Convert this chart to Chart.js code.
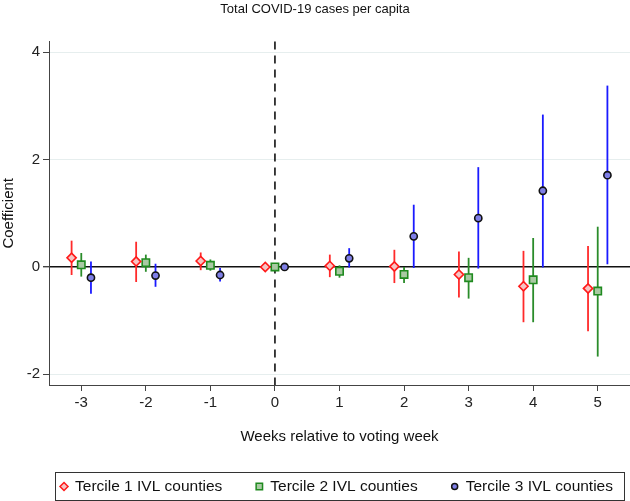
<!DOCTYPE html>
<html>
<head>
<meta charset="utf-8">
<title>Total COVID-19 cases per capita</title>
<script src="https://cdn.jsdelivr.net/npm/chart.js@4.4.1/dist/chart.umd.min.js"></script>
<style>
  html, body { margin: 0; padding: 0; background: #fff; }
  canvas { display: block; }
</style>
</head>
<body>
<canvas id="chart" width="630" height="501"></canvas>
<script>
// ---- data ----
const weeks = [-3, -2, -1, 0, 1, 2, 3, 4, 5];
const xTicks = [-3, -2, -1, 0, 1, 2, 3, 4, 5];
const yTicks = [-2, 0, 2, 4];

const seriesNames = ['Tercile 1 IVL counties', 'Tercile 2 IVL counties', 'Tercile 3 IVL counties'];

const t1Coef = [0.17, 0.10, 0.11, 0, 0.02, 0.01, -0.14, -0.36, -0.40];
const t1Lo   = [-0.15, -0.28, -0.06, null, -0.19, -0.30, -0.57, -1.03, -1.20];
const t1Hi   = [0.49, 0.47, 0.27, null, 0.23, 0.32, 0.29, 0.30, 0.39];

const t2Coef = [0.04, 0.08, 0.03, 0, -0.08, -0.14, -0.20, -0.24, -0.45];
const t2Lo   = [-0.18, -0.09, -0.07, null, -0.20, -0.30, -0.59, -1.03, -1.67];
const t2Hi   = [0.26, 0.23, 0.14, null, 0.03, 0.00, 0.17, 0.54, 0.75];

const t3Coef = [-0.20, -0.16, -0.15, 0, 0.16, 0.57, 0.91, 1.42, 1.71];
const t3Lo   = [-0.50, -0.37, -0.27, null, -0.01, -0.02, -0.03, -0.01, 0.05];
const t3Hi   = [0.10, 0.06, -0.02, null, 0.35, 1.16, 1.86, 2.84, 3.38];

// horizontal dodge so the three series don't overlap
const DODGE = [-0.15, 0, 0.15];
const FONT = '"Liberation Sans", Arial, Helvetica, sans-serif';

function points(coef, k) {
  return weeks.map((w, i) => ({ x: w + DODGE[k], y: coef[i] }));
}

// draws a marker shape by hand (used for the legend)
function drawMarker(ctx, style, x, y, r, fill, stroke, lw) {
  ctx.save();
  ctx.beginPath();
  if (style === 'rectRot') {
    ctx.moveTo(x, y - r); ctx.lineTo(x + r, y); ctx.lineTo(x, y + r); ctx.lineTo(x - r, y);
    ctx.closePath();
  } else if (style === 'rect') {
    ctx.rect(x - r, y - r, 2 * r, 2 * r);
  } else {
    ctx.arc(x, y, r, 0, Math.PI * 2);
  }
  ctx.fillStyle = fill;
  ctx.fill();
  ctx.lineWidth = lw;
  ctx.strokeStyle = stroke;
  ctx.stroke();
  ctx.restore();
}

// confidence intervals + dashed line at week 0
const errorBars = {
  id: 'errorBars',
  beforeDatasetsDraw(chart) {
    const ctx = chart.ctx;
    const xs = chart.scales.x, ys = chart.scales.y;
    const area = chart.chartArea;

    // vertical dashed line at voting week
    const x0 = xs.getPixelForValue(0);
    ctx.save();
    ctx.strokeStyle = '#111';
    ctx.lineWidth = 1.6;
    ctx.setLineDash([8, 6]);
    ctx.beginPath();
    ctx.moveTo(x0, area.top);
    ctx.lineTo(x0, area.bottom);
    ctx.stroke();
    ctx.restore();

    chart.data.datasets.forEach((ds) => {
      ctx.save();
      ctx.strokeStyle = ds.ciColor;
      ctx.lineWidth = 1.8;
      ds.data.forEach((p, i) => {
        if (ds.ciLo[i] == null) return;
        const px = xs.getPixelForValue(p.x);
        ctx.beginPath();
        ctx.moveTo(px, ys.getPixelForValue(ds.ciLo[i]));
        ctx.lineTo(px, ys.getPixelForValue(ds.ciHi[i]));
        ctx.stroke();
      });
      ctx.restore();
    });
  }
};

// boxed legend below the axis title, centred on the plot area
const boxLegend = {
  id: 'boxLegend',
  afterDraw(chart) {
    const ctx = chart.ctx;
    const area = chart.chartArea;
    ctx.save();
    ctx.font = '15.5px ' + FONT;
    const markW = 8, gapText = 7, gapItem = 33, padL = 5, padR = 11;
    const widths = chart.data.datasets.map(ds => ctx.measureText(ds.label).width);
    const content = widths.reduce((s, w) => s + markW + gapText + w, 0) + gapItem * (widths.length - 1);
    const boxW = content + padL + padR;
    const boxL = (area.left + area.right) / 2 - boxW / 2;
    const boxT = chart.height - 29;
    const boxH = 28;

    ctx.strokeStyle = '#333';
    ctx.lineWidth = 1;
    ctx.strokeRect(Math.round(boxL) + 0.5, boxT + 0.5, Math.round(boxW), boxH);

    const cy = boxT + boxH / 2 + 0.5;
    let cx = boxL + padL;
    chart.data.datasets.forEach((ds, k) => {
      const r = ds.pointStyle === 'rectRot' ? 4 : ds.pointStyle === 'rect' ? 3.2 : 3;
      drawMarker(ctx, ds.pointStyle, cx + markW / 2, cy, r, ds.pointBackgroundColor, ds.pointBorderColor, 1.5);
      cx += markW + gapText;
      ctx.fillStyle = '#111';
      ctx.textAlign = 'left';
      ctx.textBaseline = 'middle';
      ctx.fillText(ds.label, cx, cy);
      cx += widths[k] + gapItem;
    });
    ctx.restore();
  }
};

const ctx = document.getElementById('chart').getContext('2d');

new Chart(ctx, {
  type: 'scatter',
  data: {
    datasets: [
      {
        label: seriesNames[0],
        data: points(t1Coef, 0),
        ciLo: t1Lo, ciHi: t1Hi, ciColor: '#ff2a2a',
        pointStyle: 'rectRot',
        pointRadius: 4.6,
        pointBorderWidth: 1.6,
        pointBorderColor: '#ff1a1a',
        pointBackgroundColor: '#f6c4c4',
      },
      {
        label: seriesNames[1],
        data: points(t2Coef, 1),
        ciLo: t2Lo, ciHi: t2Hi, ciColor: '#2a8c2a',
        pointStyle: 'rect',
        pointRadius: 5.2,
        pointBorderWidth: 1.6,
        pointBorderColor: '#1f8a1f',
        pointBackgroundColor: '#a9c9a3',
      },
      {
        label: seriesNames[2],
        data: points(t3Coef, 2),
        ciLo: t3Lo, ciHi: t3Hi, ciColor: '#1a1aff',
        pointStyle: 'circle',
        pointRadius: 3.6,
        pointBorderWidth: 1.6,
        pointBorderColor: '#111',
        pointBackgroundColor: '#7f7fe6',
      },
    ],
  },
  options: {
    responsive: false,
    animation: false,
    devicePixelRatio: 1,
    layout: {
      autoPadding: false,
      padding: { top: 0, left: 0, right: 0, bottom: 44 },
    },
    plugins: {
      legend: { display: false },
      tooltip: { enabled: false },
      title: {
        display: true,
        text: 'Total COVID-19 cases per capita',
        color: '#111',
        font: { family: FONT, size: 13, weight: 'normal' },
        padding: { top: 2, bottom: 24 },
      },
    },
    scales: {
      x: {
        type: 'linear',
        min: -3.5,
        max: 5.5,
        afterBuildTicks: (scale) => { scale.ticks = xTicks.map(v => ({ value: v })); },
        afterFit: (scale) => {
          scale.height = 72;
          scale.paddingLeft = 0;
          scale.paddingRight = 0;
        },
        border: { color: '#444', width: 1 },
        grid: { drawOnChartArea: false, tickLength: 6, tickColor: '#444' },
        ticks: {
          color: '#222',
          padding: 3,
          maxRotation: 0,
          font: { family: FONT, size: 15 },
          callback: (v) => String(v),
        },
        title: {
          display: true,
          text: 'Weeks relative to voting week',
          color: '#111',
          font: { family: FONT, size: 15 },
          padding: { top: 8, bottom: 11 },
        },
      },
      y: {
        min: -2.2,
        max: 4.2,
        afterBuildTicks: (scale) => { scale.ticks = yTicks.map(v => ({ value: v })); },
        afterFit: (scale) => { scale.width = 49; },
        border: { color: '#444', width: 1 },
        grid: {
          color: (c) => (c.tick && c.tick.value === 0 ? '#111' : '#e6eeee'),
          lineWidth: (c) => (c.tick && c.tick.value === 0 ? 1.4 : 1),
          tickLength: 6,
          tickColor: '#444',
        },
        ticks: {
          color: '#222',
          padding: 3,
          font: { family: FONT, size: 15 },
          callback: (v) => String(v),
        },
        title: {
          display: true,
          text: 'Coefficient',
          color: '#111',
          font: { family: FONT, size: 15 },
          padding: { top: 0, bottom: 0 },
        },
      },
    },
  },
  plugins: [errorBars, boxLegend],
});
</script>
</body>
</html>
